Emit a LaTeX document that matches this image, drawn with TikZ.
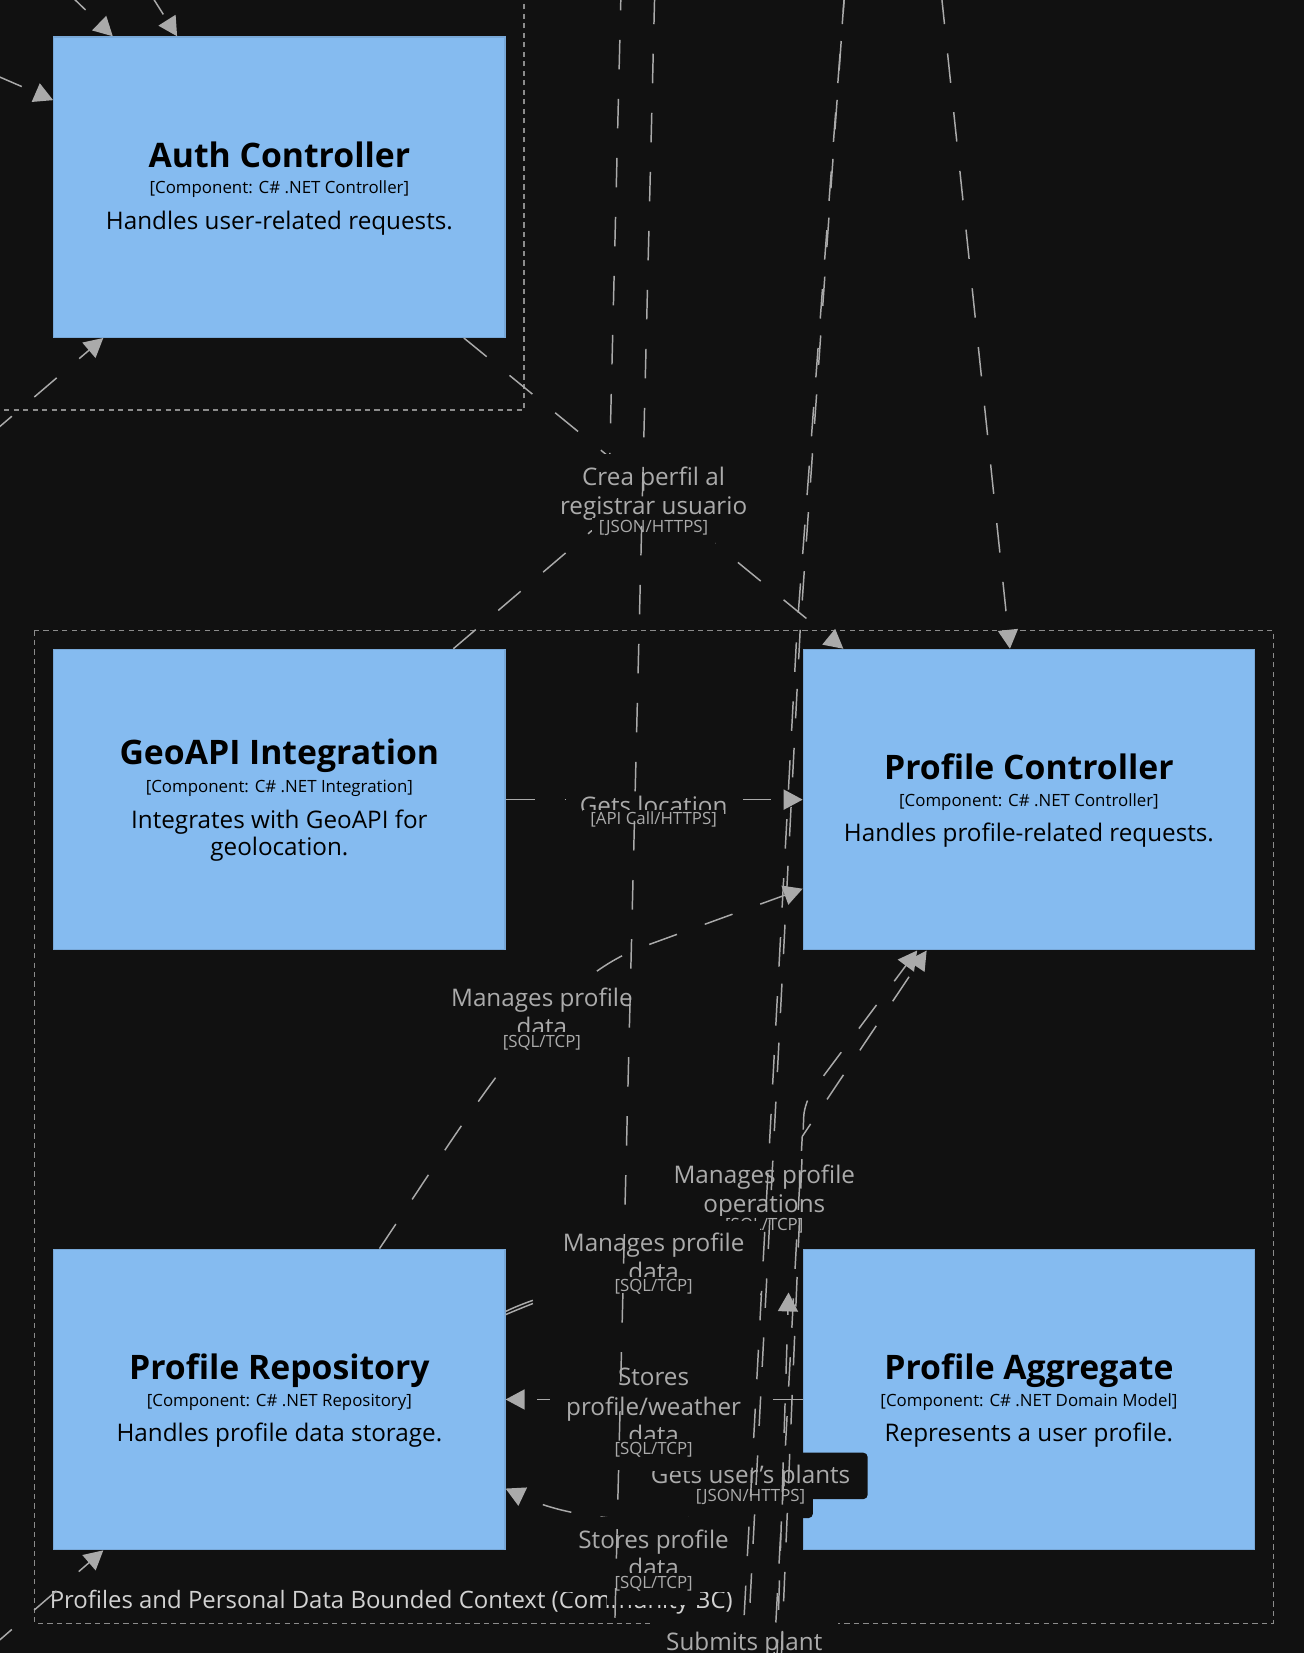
\documentclass[tikz,border=0pt]{standalone}
\usepackage{fontspec}
\setmainfont{Open Sans}
\usetikzlibrary{arrows.meta,calc}
\definecolor{bgcol}{HTML}{111111}
\definecolor{boxfill}{HTML}{85BBF0}
\definecolor{boxdraw}{HTML}{78A8D8}
\definecolor{linecol}{HTML}{AAAAAA}
\definecolor{lblcol}{HTML}{ABABAB}
\definecolor{bndcol}{HTML}{8C8C8C}
\definecolor{bndtext}{HTML}{D2D2D2}
\begin{document}
\begin{tikzpicture}[x=1pt,y=-1pt,
  comp/.style={draw=boxdraw,fill=boxfill,line width=1.2pt,minimum width=428pt,minimum height=285pt,inner sep=0pt},
  ttl/.style={font=\fontsize{32}{38}\selectfont\bfseries,text=black,anchor=base,inner sep=0pt},
  ctech/.style={font=\fontsize{16}{19}\selectfont,text=black,anchor=base,inner sep=0pt},
  cdesc/.style={font=\fontsize{23}{27}\selectfont,text=black,anchor=base,inner sep=0pt},
  lbl/.style={font=\fontsize{23}{27}\selectfont,text=lblcol,anchor=base,inner sep=0pt},
  ltech/.style={font=\fontsize{16}{19}\selectfont,text=lblcol,anchor=base,inner sep=0pt},
  conn/.style={draw=linecol,line width=1.4pt,dash pattern=on 28pt off 28pt},
  arr/.style={-{Triangle[length=18pt,width=19pt]}},
  bnd/.style={draw=bndcol,line width=1.2pt,dash pattern=on 5pt off 4pt},
  lbox/.style={fill=bgcol}]
\useasboundingbox (0,0) rectangle (1237,1568);
\clip (0,0) rectangle (1237,1568);
\fill[bgcol] (0,0) rectangle (1237,1568);

% boundaries
\draw[bnd] (-5,389) -- (497,389) -- (497,-5);
\draw[bnd] (33,598) rectangle (1208,1540);
\node[anchor=base west,font=\fontsize{22.7}{27}\selectfont,text=bndtext,inner sep=0pt] (bndlbl) at (47,1526) {Profiles and Personal Data Bounded Context (Community BC)};

% components
\node[comp] (auth) at (265,177.5) {};
\node[comp] (geo) at (265,758.5) {};
\node[comp] (pc) at (976,758.5) {};
\node[comp] (repo) at (265,1327.5) {};
\node[comp] (agg) at (976,1327.5) {};

\node[ttl] (authT) at ($(auth.center)+(0,-19)$) {Auth Controller};
\node[ctech] (authC) at ($(auth.center)+(0,6.5)$) {[Component: C\# .NET Controller]};
\node[cdesc] (authD) at ($(auth.center)+(0,40)$) {Handles user-related requests.};

\node[ttl] (geoT) at ($(geo.center)+(0,-33)$) {GeoAPI Integration};
\node[ctech] (geoC) at ($(geo.center)+(0,-7)$) {[Component: C\# .NET Integration]};
\node[cdesc] (geoD1) at ($(geo.center)+(0,27)$) {Integrates with GeoAPI for};
\node[cdesc] (geoD2) at ($(geo.center)+(0,53)$) {geolocation.};

\node[ttl] (pcT) at ($(pc.center)+(0,-19)$) {Profile Controller};
\node[ctech] (pcC) at ($(pc.center)+(0,6.5)$) {[Component: C\# .NET Controller]};
\node[cdesc] (pcD) at ($(pc.center)+(0,40)$) {Handles profile-related requests.};

\node[ttl] (repoT) at ($(repo.center)+(0,-19)$) {Profile Repository};
\node[ctech] (repoC) at ($(repo.center)+(0,6.5)$) {[Component: C\# .NET Repository]};
\node[cdesc] (repoD) at ($(repo.center)+(0,40)$) {Handles profile data storage.};

\node[ttl] (aggT) at ($(agg.center)+(0,-19)$) {Profile Aggregate};
\node[ctech] (aggC) at ($(agg.center)+(0,6.5)$) {[Component: C\# .NET Domain Model]};
\node[cdesc] (aggD) at ($(agg.center)+(0,40)$) {Represents a user profile.};

% connectors hidden under their labels
\draw[conn,arr] ($(auth.south)+(175,0)$) -- ($(pc.north)+(-176,0)$);
\draw[conn,arr] (geo.east) -- (pc.west);
\draw[conn,arr] ($(repo.north)+(95,0)$) .. controls (450,1050) and (520,930) .. (610,898) -- ($(pc.west)+(0,84.5)$);
\draw[conn] ($(repo.east)+(0,-83.5)$) .. controls (540,1215) and (650,1200) .. (722,1228);
\draw[conn] ($(repo.east)+(0,-80.5)$) .. controls (520,1230) and (545,1222) .. (560,1217);
\draw[conn,arr] (agg.west) -- (repo.east);
\draw[conn,arr] ($(agg.west)+(0,84.5)$) .. controls (680,1450) and (560,1450) .. ($(repo.east)+(0,84.5)$);
\draw[conn,rounded corners=12] ($(geo.north)+(165,0)$) -- (577,490) -- (589,-5);

% labels
\fill[lbox] (516,431) rectangle (724,503);
\node[lbl] (l1a) at (620,460.5) {Crea perfil al};
\node[lbl] (l1b) at (620,488.5) {registrar usuario};
\fill[lbox] (562,491) rectangle (678,521);
\node[ltech] (l1t) at (620,505.4) {[JSON/HTTPS]};

\fill[lbox] (537,743) rectangle (705,787);
\node[lbl] (l2a) at (620,772.5) {Gets location};
\fill[lbox] (553,768) rectangle (687,798);
\node[ltech] (l2t) at (620,782.4) {[API Call/HTTPS]};

\fill[lbox] (414,925) rectangle (615,997);
\node[lbl] (l3a) at (514,954.5) {Manages profile};
\node[lbl] (l3b) at (514,982.5) {data};
\fill[lbox] (470,979) rectangle (558,1009);
\node[ltech] (l3t) at (514,993.4) {[SQL/TCP]};

\fill[lbox] (625,1093) rectangle (826,1165);
\node[lbl] (l4a) at (725,1122.5) {Manages profile};
\node[lbl] (l4b) at (725,1150.5) {operations};
\fill[lbox] (681,1153) rectangle (769,1183);
\node[ltech] (l4t) at (725,1167.4) {[SQL/TCP]};

\fill[lbox] (519,1158) rectangle (721,1229);
\node[lbl] (l5a) at (620,1187.5) {Manages profile};
\node[lbl] (l5b) at (620,1214.5) {data};
\fill[lbox] (576,1211) rectangle (664,1241);
\node[ltech] (l5t) at (620,1225.4) {[SQL/TCP]};

\fill[lbox,rounded corners=4pt] (601,1378) rectangle (823,1422);
\node[lbl] (l7a) at (712,1407.5) {Gets user's plants};
\fill[lbox,rounded corners=4pt] (653,1410) rectangle (771,1440);
\node[ltech] (l7t) at (712,1424.4) {[JSON/HTTPS]};

\fill[lbox] (522,1285) rectangle (718,1384);
\node[lbl] (l6a) at (620,1314.5) {Stores};
\node[lbl] (l6b) at (620,1342.5) {profile/weather};
\node[lbl] (l6c) at (620,1369.5) {data};
\fill[lbox] (576,1365) rectangle (664,1395);
\node[ltech] (l6t) at (620,1379.4) {[SQL/TCP]};

\fill[lbox] (533,1439) rectangle (707,1510);
\node[lbl] (l8a) at (620,1468.5) {Stores profile};
\node[lbl] (l8b) at (620,1495.5) {data};
\fill[lbox] (576,1492) rectangle (664,1522);
\node[ltech] (l8t) at (620,1506.4) {[SQL/TCP]};

% long lines crossing the labels
\coordinate (v2top) at (621,-5);
\coordinate (v2bot) at (583,1548);
\draw[conn] (v2top) -- (v2bot);
\coordinate (latop) at (801,-5);
\draw[conn] (latop) -- (756,598) -- (704,1568);
\draw[conn,dash phase=12pt] (latop) -- (759,598) -- (709,1568);
\draw[conn,arr] (893,-5) -- ($(pc.north)+(-18,0)$);
\draw[conn,arr] (61,-10) -- ($(auth.north)+(-158,0)$);
\draw[conn,arr] (140,-10) -- ($(auth.north)+(-97,0)$);
\draw[conn,arr] (-5,71) -- ($(auth.west)+(0,-82.5)$);
\draw[conn,arr] (-10,413) -- ($(auth.south)+(-167,0)$);
\draw[conn,arr] (-10,1564) -- ($(repo.south)+(-167,0)$);

\fill[lbox] (618,1536) rectangle (795,1580);
\node[lbl] (l9) at (706,1565.5) {Submits plant};

\draw[conn,arr,rounded corners=14pt] (741,1575) -- (763,1045) -- ($(pc.south)+(-106,0)$);
\draw[conn,arr,dash phase=20pt] (734,1575) -- (761,1078) -- ($(pc.south)+(-97,0)$);
\draw[conn,arr,dash phase=8pt] (737,1575) -- (748,1226);
\end{tikzpicture}
\end{document}
